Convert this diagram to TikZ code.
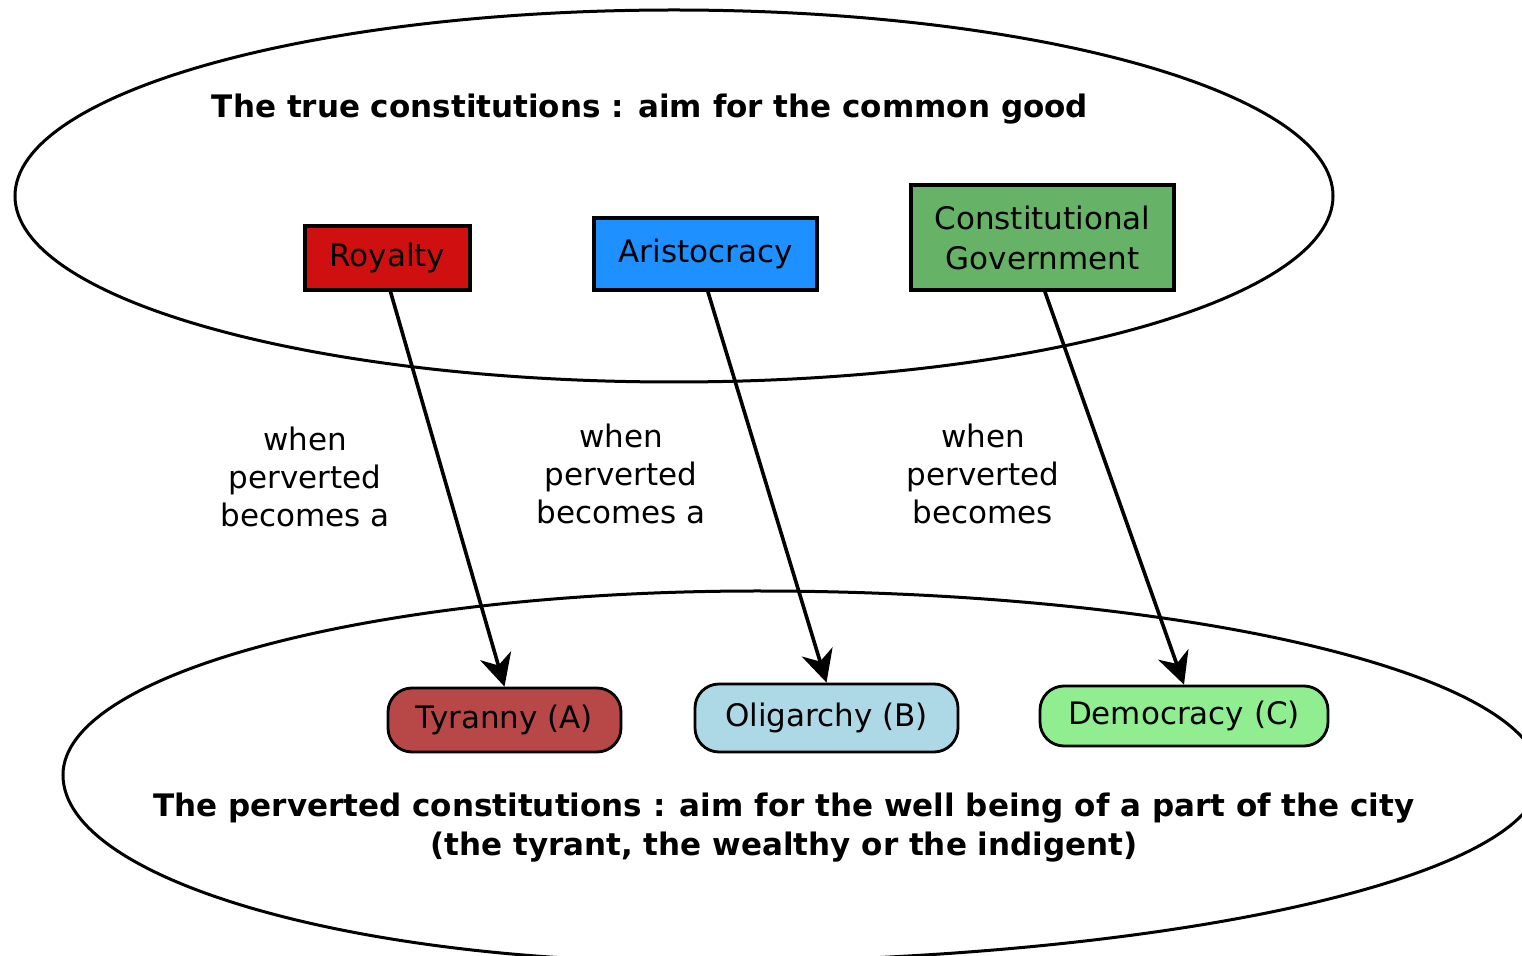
\documentclass[tikz,border=0pt]{standalone}
\usepackage{fontspec}
\setmainfont{DejaVu Sans}
\usetikzlibrary{arrows.meta}
\definecolor{royred}{RGB}{208,16,16}
\definecolor{aristblue}{RGB}{30,144,255}
\definecolor{constgreen}{RGB}{102,178,102}
\definecolor{tyrred}{RGB}{184,72,72}
\definecolor{oliblue}{RGB}{173,216,230}
\definecolor{demgreen}{RGB}{144,238,144}
\tikzset{
  txt/.style={font=\fontsize{15.5}{19}\selectfont, align=center, inner sep=0pt},
  title/.style={font=\bfseries\fontsize{15.5}{19.5}\selectfont, align=center, inner sep=0pt},
  truebox/.style={draw, line width=1.7pt, inner sep=0pt, align=center, font=\fontsize{15.5}{20}\selectfont},
  pervbox/.style={draw, line width=1.4pt, rounded corners=12pt, inner sep=0pt, align=center, font=\fontsize{15.5}{19}\selectfont},
  oval/.style={line width=1.5pt},
  conn/.style={line width=1.8pt, -{Stealth[length=16pt, width=16pt, inset=5pt]}}
}
\begin{document}
\begin{tikzpicture}[x=0.5pt, y=-0.5pt]
\useasboundingbox (0,0) rectangle (1522,956);
\begin{scope}
\clip (0,0) rectangle (1522,956);
% top oval
\draw[oval] (674,196) ellipse [x radius=329.5pt, y radius=93pt];
% bottom oval
\draw[oval] (63,775) .. controls (63,673) and (374,591) .. (757,591)
  .. controls (1187,591) and (1540,674) .. (1540,777)
  .. controls (1540,879) and (1159,962) .. (695,962)
  .. controls (346,962) and (63,878) .. (63,775) -- cycle;
\end{scope}

\node[title] (ttl) at (650,109) {The true constitutions : aim for the common good};
\node[title] (btl) at (784,828) {The perverted constitutions : aim for the well being of a part of the city\\(the tyrant, the wealthy or the indigent)};

\node[truebox, fill=royred, minimum width=82.5pt, minimum height=32pt] (roy) at (387.5,258) {Royalty};
\node[truebox, fill=aristblue, minimum width=111.5pt, minimum height=36pt] (ari) at (705.5,254) {Aristocracy};
\node[truebox, fill=constgreen, minimum width=131.5pt, minimum height=52.5pt] (con) at (1042.5,237.5) {Constitutional\\Government};

\node[pervbox, fill=tyrred, minimum width=116.5pt, minimum height=32pt] (tyr) at (504.5,720) {Tyranny (A)};
\node[pervbox, fill=oliblue, minimum width=131.5pt, minimum height=34pt] (oli) at (826.5,718) {Oligarchy (B)};
\node[pervbox, fill=demgreen, minimum width=144pt, minimum height=30pt] (dem) at (1184,716) {Democracy (C)};

\node[txt] (l1) at (305,477) {when\\perverted\\becomes a};
\node[txt] (l2) at (621,474) {when\\perverted\\becomes a};
\node[txt] (l3) at (983,474) {when\\perverted\\becomes};

\draw[conn] ([xshift=1.5pt]roy.south) -- (tyr.north);
\draw[conn] ([xshift=1.2pt]ari.south) -- (oli.north);
\draw[conn] ([xshift=1.2pt]con.south) -- (dem.north);
\end{tikzpicture}
\end{document}
